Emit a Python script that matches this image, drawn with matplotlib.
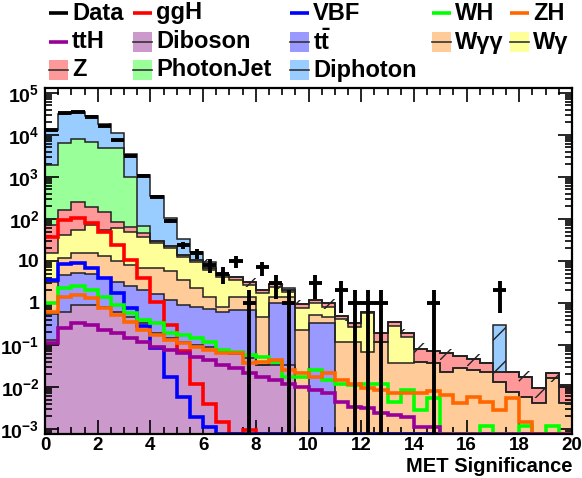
import numpy as np
import matplotlib
matplotlib.use("Agg")
import matplotlib.pyplot as plt
from matplotlib.patches import Rectangle
from matplotlib.lines import Line2D
from matplotlib.ticker import FixedLocator, FixedFormatter, LogLocator, MultipleLocator, NullFormatter

plt.rcParams['font.family'] = ['Liberation Sans', 'DejaVu Sans']
plt.rcParams['font.weight'] = 'bold'
plt.rcParams['mathtext.fontset'] = 'custom'
plt.rcParams['mathtext.rm'] = 'Liberation Sans:bold'
plt.rcParams['mathtext.bf'] = 'Liberation Sans:bold'
plt.rcParams['mathtext.it'] = 'Liberation Sans:bold'
plt.rcParams['hatch.linewidth'] = 1.0

# ---------------- data (40 bins of MET significance, width 0.5, 0..20) ----------------
bin_edges = np.linspace(0, 20, 41)

diboson = [0.13, 0.6, 0.9, 0.9, 0.8, 0.6, 0.46, 0.33, 0.19, 0.15,
           0.12, 0.1, 0.09, 0.07, 0.06, 0.05, 0.033, 0.033, 0.033, 0,
           0, 0, 0, 0, 0, 0, 0, 0, 0, 0,
           0, 0, 0, 0, 0, 0, 0, 0, 0, 0]
ttbar = [0.42, 3.9, 4.3, 4.1, 3.2, 2.6, 2.1, 1.7, 1.4, 1.05,
         0.78, 0.7, 0.61, 0.53, 0.62, 0.63, 0, 0.95, 0.95, 0,
         0.33, 0.33, 0, 0, 0, 0, 0, 0, 0, 0,
         0, 0, 0, 0, 0, 0, 0, 0, 0, 0]
wgg = [2.65, 7.5, 9.8, 10, 9, 6.8, 5.4, 4.8, 5.2, 4.4,
       2.6, 1.5, 0.7, 0.22, 0.72, 0.72, 0.44, 0.42, 0.42, 0.23,
       0.19, 0.14, 0.12, 0.12, 0.069, 0.12, 0.037, 0.037, 0.04, 0.037,
       0.023, 0.028, 0.025, 0.023, 0.0134, 0.0077, 0.0059, 0.0041, 0.016, 0.0041]
wg = [11.8, 30, 40, 57, 42, 50, 41, 30, 20, 14.4,
      9.2, 7.2, 4.6, 3.4, 2.1, 1.3, 1.23, 1.0, 0.45, 0.52,
      0.48, 0.35, 0.29, 0.15, 0.5, 0, 0.24, 0.12, 0, 0,
      0, 0, 0, 0, 0, 0, 0, 0, 0, 0]
zjets = [57, 121, 195, 123, 92, 25, 16, 9, 3, 2,
         1.3, 1.0, 0.6, 0.4, 0.7, 0.5, 0.3, 0.4, 0.15, 0.2,
         0.18, 0.16, 0.08, 0.07, 0.05, 0.075, 0.08, 0.037, 0.039, 0.035,
         0.04, 0.027, 0.021, 0.015, 0.0096, 0.015, 0.011, 0.0052, 0.006, 0.007]
photonjet = [1830, 6340, 7750, 6600, 4750, 4800, 935, 20, 0, 0,
             0, 0, 0, 0, 0, 0, 0, 0, 0, 0,
             0, 0, 0, 0, 0, 0, 0, 0, 0, 0,
             0, 0, 0, 0, 0, 0, 0, 0, 0, 0]
diphoton = [11100, 25500, 27000, 21200, 13100, 6100, 2500, 1030, 320, 83,
            19, 5.5, 2.9, 0, 0, 0, 0, 0, 0.2, 0,
            0, 0, 0, 0, 0, 0, 0, 0, 0, 0,
            0, 0, 0, 0, 0.27, 0, 0, 0, 0, 0]
mc_unc_frac = [0.02, 0.02, 0.02, 0.03, 0.08, 0.2, 0.25, 0.2, 0.15, 0.15,
               0.15, 0.15, 0.15, 0.15, 0.25, 0.25, 0.25, 0.25, 0.25, 0.25,
               0.25, 0.25, 0.25, 0.25, 0.25, 0.4, 0.25, 0.25, 0.4, 0.3,
               0.3, 0.3, 0.3, 0.3, 0.93, 0.4, 0.4, 0.4, 0.4, 0.4]

ggh = [37, 95, 105, 80, 49, 24, 10.5, 3.9, 1.05, 0.3,
       0.07, 0.012, 0.004, 0.0015, 0, 0.00095, 0, 0, 0, 0,
       0, 0, 0, 0, 0, 0, 0, 0, 0, 0,
       0, 0, 0, 0, 0, 0, 0, 0, 0, 0]
vbf = [3.5, 8.5, 9, 6.8, 4, 1.7, 0.75, 0.28, 0.085, 0.017,
       0.0058, 0.0019, 0.0011, 0, 0, 0, 0, 0, 0, 0,
       0, 0, 0, 0, 0, 0, 0, 0, 0, 0,
       0, 0, 0, 0, 0, 0, 0, 0, 0, 0]
wh = [1.0, 2.3, 2.5, 2.0, 1.4, 0.9, 0.58, 0.39, 0.33, 0.19,
      0.17, 0.15, 0.12, 0.076, 0.068, 0.058, 0.052, 0.039, 0.017, 0.017,
      0.025, 0.015, 0.012, 0.011, 0.012, 0.012, 0.0044, 0.0085, 0.0028, 0.0055,
      0, 0, 0, 0.0012, 0, 0, 0.0012, 0, 0.0012, 0]
zh = [0.61, 1.4, 1.55, 1.3, 0.76, 0.52, 0.35, 0.23, 0.17, 0.13,
      0.11, 0.09, 0.076, 0.065, 0.065, 0.037, 0.04, 0.044, 0.025, 0.021,
      0.017, 0.021, 0.015, 0.012, 0.0095, 0.0085, 0.0072, 0.0072, 0.0072, 0.008,
      0.0065, 0.0042, 0.0058, 0.0044, 0.0028, 0.0055, 0.0015, 0, 0, 0]
tth = [0.11, 0.25, 0.33, 0.3, 0.23, 0.19, 0.15, 0.12, 0.09, 0.076,
       0.065, 0.052, 0.044, 0.033, 0.028, 0.021, 0.017, 0.015, 0.012, 0.01,
       0.0085, 0.0072, 0.0044, 0.0034, 0.0032, 0.0024, 0.0022, 0.0019, 0.0011, 0.0011,
       0, 0, 0, 0, 0, 0, 0, 0, 0, 0]
data = [13000, 33000, 35000, 27000, 16000, 7600, 3200, 1050, 330, 90,
        24, 15, 8, 5, 10, 1, 7, 3, 1, 0,
        3, 0, 2, 1, 1, 1, 0, 0, 0, 1,
        0, 0, 0, 0, 2, 0, 0, 0, 0, 0]

y_tick_labels = [r'$\mathbf{10^{-3}}$', r'$\mathbf{10^{-2}}$', r'$\mathbf{10^{-1}}$', '1', '10',
                 r'$\mathbf{10^{2}}$', r'$\mathbf{10^{3}}$', r'$\mathbf{10^{4}}$', r'$\mathbf{10^{5}}$']
x_label = 'MET Significance'

# ---------------- figure ----------------
W, H = 582, 478
fig = plt.figure(figsize=(W / 100, H / 100), dpi=100)
ax = fig.add_axes([45 / W, 44 / H, 527 / W, 346 / H])
YMIN, YMAX = 7.6e-4, 1.3e5
ax.set_yscale('log')
ax.set_xlim(0, 20)
ax.set_ylim(YMIN, YMAX)

layers = [(diboson, '#cc99cc'), (ttbar, '#9999ff'), (wgg, '#ffcc99'), (wg, '#ffff99'),
          (zjets, '#ff9999'), (photonjet, '#99ff99'), (diphoton, '#99ccff')]
floor = 1e-7
base = np.full(len(bin_edges) - 1, floor)
tops = []
for vals, col in layers:
    top = base + np.asarray(vals, float)
    ax.stairs(top, bin_edges, baseline=base, fill=True, facecolor=col, edgecolor='none', lw=0, zorder=1)
    tops.append(top)
    base = top
for top in tops:
    ax.stairs(top, bin_edges, baseline=None, color='#222222', lw=1.1, zorder=2)

total = tops[-1]
unc = total * np.asarray(mc_unc_frac)
ax.stairs(total + unc, bin_edges, baseline=np.maximum(total - unc, floor), fill=True,
          facecolor='none', edgecolor='#222222', hatch='/', lw=0, zorder=3)

for vals, col in [(ggh, '#ff0000'), (vbf, '#0000ff'), (wh, '#00ff00'), (zh, '#ff6600'), (tth, '#990099')]:
    v = np.maximum(np.asarray(vals, float), YMIN)
    ax.stairs(v, bin_edges, baseline=None, color=col, lw=2.6, zorder=4)

centers = 0.5 * (bin_edges[:-1] + bin_edges[1:])
d = np.asarray(data, float)
m = d > 0
err = np.sqrt(d)
lo = np.where(err >= d, d - 1e-8, err)
ax.errorbar(centers[m], d[m], xerr=0.25, yerr=[lo[m], err[m]], fmt='none', ecolor='black',
            elinewidth=2.8, capsize=0, zorder=6)

# axes styling (ROOT-like)
ax.xaxis.set_major_locator(MultipleLocator(2))
ax.xaxis.set_minor_locator(MultipleLocator(0.5))
ax.yaxis.set_major_locator(FixedLocator(10.0 ** np.arange(-3, 6)))
ax.yaxis.set_major_formatter(FixedFormatter(y_tick_labels))
ax.yaxis.set_minor_locator(LogLocator(base=10, subs=np.arange(2, 10), numticks=30))
ax.yaxis.set_minor_formatter(NullFormatter())
ax.tick_params(which='both', direction='in', top=True, right=True, width=1.2)
ax.tick_params(axis='y', which='major', length=10, pad=4, labelsize=14)
ax.tick_params(axis='x', which='major', length=10, pad=2, labelsize=13.5)
ax.tick_params(which='minor', length=5)
for s in ax.spines.values():
    s.set_linewidth(1.6)
    s.set_zorder(10)

fig.text(572 / W, 1 - 472 / H, x_label, ha='right', va='baseline', fontsize=14.5, fontweight='bold')

# ---------------- legend (ROOT style, manual placement) ----------------
def fx(x):
    return x / W

def fy(y):
    return 1 - y / H

legend_items = [
    (49, 13, 'line', 'black', 'Data'), (133, 13, 'line', '#ff0000', 'ggH'),
    (290, 13, 'line', '#0000ff', 'VBF'), (432, 13, 'line', '#00ff00', 'WH'),
    (510, 13, 'line', '#ff6600', 'ZH'),
    (49, 42, 'line', '#990099', 'ttH'), (133, 42, 'box', '#cc99cc', 'Diboson'),
    (290, 42, 'box', '#9999ff', r'$\mathbf{t\bar{t}}$'), (432, 42, 'box', '#ffcc99', 'Wγγ'),
    (510, 42, 'box', '#ffff99', 'Wγ'),
    (49, 70, 'box', '#ff9999', 'Z'), (133, 70, 'box', '#99ff99', 'PhotonJet'),
    (290, 70, 'box', '#99ccff', 'Diphoton'),
]
for x0, yc, kind, col, lab in legend_items:
    if kind == 'box':
        fig.add_artist(Rectangle((fx(x0), fy(yc + 10)), 19 / W, 20 / H, transform=fig.transFigure,
                                 facecolor=col, edgecolor='none'))
        fig.add_artist(Line2D([fx(x0), fx(x0 + 19)], [fy(yc), fy(yc)], transform=fig.transFigure,
                              color='#333333', lw=1.2))
    else:
        fig.add_artist(Line2D([fx(x0), fx(x0 + 19)], [fy(yc), fy(yc)], transform=fig.transFigure,
                              color=col, lw=2.6, solid_capstyle='butt'))
    fig.text(fx(x0 + 23), fy(yc), lab, ha='left', va='center', fontsize=17, fontweight='bold')

fig.savefig('out.png', dpi=100)
